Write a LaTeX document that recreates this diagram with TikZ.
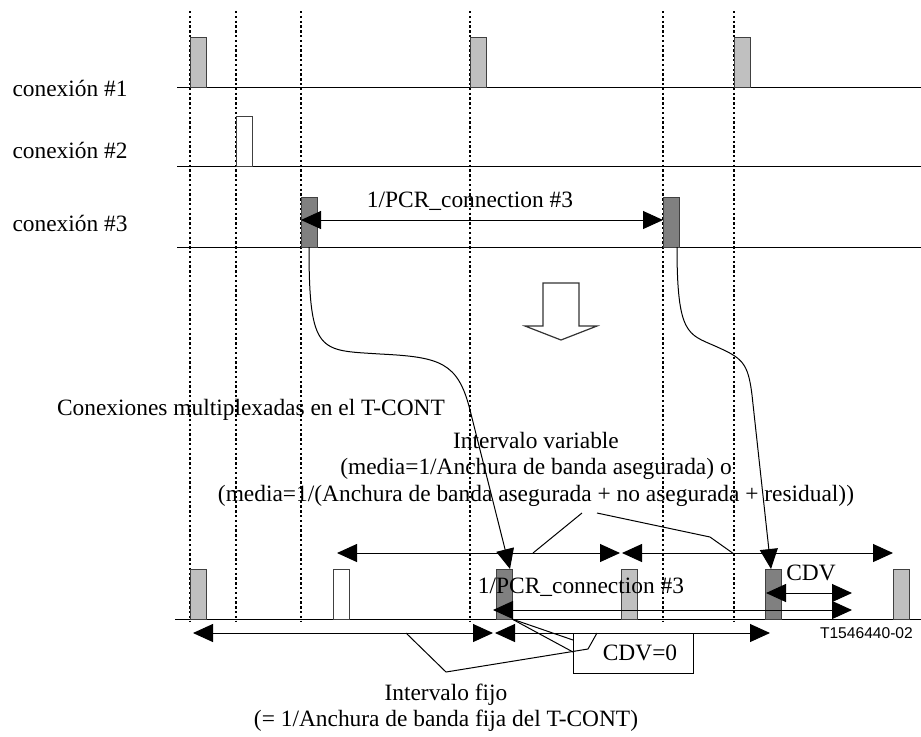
\documentclass[tikz,border=0pt]{standalone}
\usepackage{fontspec}
\setmainfont{Liberation Serif}
\newfontfamily\refsans{Liberation Sans}
\usepackage{tikz}
\usetikzlibrary{arrows.meta,calc}
\definecolor{cellgray}{RGB}{192,192,192}
\definecolor{celldark}{RGB}{128,128,128}

\begin{document}
\begin{tikzpicture}[
      x=0.5pt, y=-0.5pt, line width=0.5pt,
      font=\fontsize{11.7}{13.2}\selectfont,
      tip/.style={-{Triangle[length=10pt,width=9pt]}},
      dimarr/.style={{Triangle[length=10pt,width=9pt]}-{Triangle[length=10pt,width=9pt]}},
      cell/.style={draw=black!75, minimum width=8pt, minimum height=25pt,
                   inner sep=0pt, outer sep=0pt, anchor=south west},
      lcell/.style={cell, fill=cellgray},
      dcell/.style={cell, fill=celldark},
      wcell/.style={cell, fill=white},
      slot/.style={dash pattern=on 1.2pt off 1.2pt, line width=1.1pt},
      lbl/.style={inner sep=0pt, anchor=west}
    ]
    \useasboundingbox (0,0) rectangle (921,736);

    % time slots
    \foreach \x in {190,236,301,470,663,734}
      \draw[slot] (\x,11) -- (\x,622);

    % connection rows
    \foreach \y in {87,166,247}
      \draw (177,\y) -- (921,\y);
    \draw (175,619) -- (921,619);

    \node[lbl] (row1) at (12,88)  {conexión \#1};
    \node[lbl] (row2) at (12,150) {conexión \#2};
    \node[lbl] (row3) at (12,223) {conexión \#3};

    \node[lcell] (c1a) at (190,87)  {};
    \node[lcell] (c1b) at (470,87)  {};
    \node[lcell] (c1c) at (734,87)  {};
    \node[wcell] (c2a) at (236,166) {};
    \node[dcell] (c3a) at (301,247) {};
    \node[dcell] (c3b) at (663,247) {};

    % multiplexed row
    \node[lcell] (m1) at (190,619) {};
    \node[wcell] (m2) at (333,619) {};
    \node[dcell] (m3) at (496,619) {};
    \node[lcell] (m4) at (621,619) {};
    \node[dcell] (m5) at (765,619) {};
    \node[lcell] (m6) at (893,619) {};

    \coordinate (p1) at (301,220);
    \coordinate (p2) at (663,220);
    \draw[dimarr] (p1) -- (p2);
    \node (pcrtop) at (470,201) {1/PCR\_connection \#3};

    % big down arrow
    \draw[black!80, line width=0.6pt] (543,283) -- (579,283) -- (579,326) -- (597,326)
      -- (561,340) -- (525,326) -- (543,326) -- cycle;

    % cells of connection #3 moved into the T-CONT
    \draw[tip] (c3a.south) .. controls (309,355) and (320,350) .. (380,354)
      .. controls (440,357) and (458,362) .. (470,410) -- ([xshift=3pt]m3.north);
    \draw[tip] ([xshift=-1pt]c3b.south east) .. controls (677,335) and (688,334) .. (715,346)
      .. controls (742,358) and (748,362) .. (752,395) -- ([xshift=-1pt]m5.north);

    \node[anchor=east] (mux) at (452,410) {Conexiones multiplexadas en el T-CONT};
    \node[align=center] (varint) at (536,469)
      {Intervalo variable\\(media=1/Anchura de banda asegurada) o\\(media=1/(Anchura de banda asegurada + no asegurada + residual))};

    % variable interval
    \coordinate (va1) at (337,553);
    \coordinate (va2) at (620,553);
    \coordinate (vb1) at (622,553);
    \coordinate (vb2) at (893,553);
    \draw[dimarr] (va1) -- (va2);
    \draw[dimarr] (vb1) -- (vb2);
    \coordinate (lv1) at (533,553);
    \coordinate (lv2) at (734,554);
    \draw (lv1) -- (582,513);
    \draw (597,513) -- (710,537) -- (lv2);

    \coordinate (pc1) at (493,610);
    \coordinate (pc2) at (852,610);
    \draw[dimarr] (pc1) -- (pc2);
    \node (pcrbot) at (581,587) {1/PCR\_connection \#3};

    \coordinate (cd1) at (766,593);
    \coordinate (cd2) at (852,593);
    \draw[dimarr] (cd1) -- (cd2);
    \node (cdv) at (811,573) {CDV};

    % fixed interval
    \coordinate (fa1) at (193,633);
    \coordinate (fa2) at (493,633);
    \coordinate (fb1) at (495,633);
    \coordinate (fb2) at (770,633);
    \draw[dimarr] (fa1) -- (fa2);
    \draw[dimarr] (fb1) -- (fb2);

    \node[draw, minimum width=60pt, minimum height=20pt, inner sep=0pt] (cdvzero) at (633,653) {\hspace{7pt}CDV=0};
    \draw (m3.south east) -- (573,640);
    \draw (m3.south east) -- (573,652);

    \coordinate (lf1) at (406,633);
    \draw (lf1) -- (446,672) -- (588,649) -- (597,633);
    \node[align=center] (fix) at (446,708)
      {Intervalo fijo\\(= 1/Anchura de banda fija del T-CONT)};

    \node[anchor=east, font=\refsans\fontsize{7.8}{9}\selectfont] (code) at (920,633) {T1546440-02};
  \end{tikzpicture}
\end{document}
